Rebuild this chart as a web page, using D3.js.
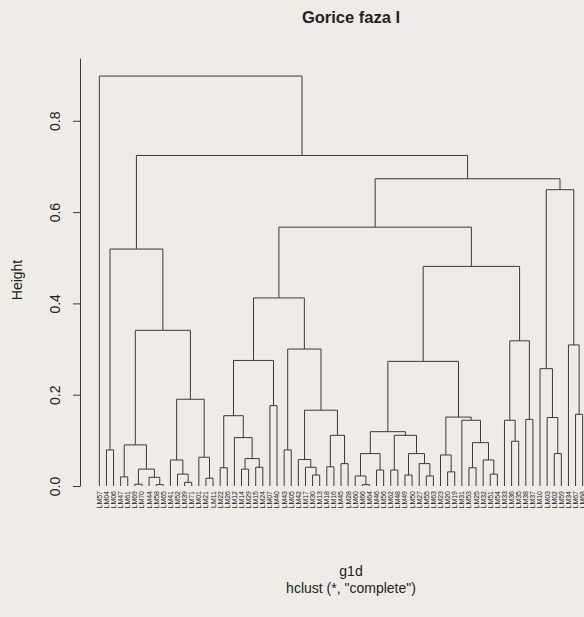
<!DOCTYPE html>
<html>
<head>
<meta charset="utf-8">
<script src="https://cdn.jsdelivr.net/npm/d3@7"></script>
<style>
  html, body { margin: 0; padding: 0; background: #efece7; }
  svg { display: block; }
  text { font-family: "Liberation Sans", Arial, sans-serif; fill: #222; }
</style>
</head>
<body>
<svg id="chart" width="584" height="617"></svg>
<script>
// Leaf labels in display order
const labels = ["LM57","LM04","LM06","LM47","LM61","LM69","LM70","LM44","LM58","LM65",
  "LM41","LM52","LM39","LM71","LM01","LM21","LM11","LM22","LM26","LM12",
  "LM14","LM29","LM15","LM24","LM07","LM40","LM43","LM05","LM42","LM17",
  "LM30","LM13","LM18","LM16","LM45","LM28","LM60","LM66","LM64","LM46",
  "LM56","LM62","LM48","LM49","LM50","LM27","LM55","LM63","LM23","LM20",
  "LM19","LM31","LM53","LM25","LM32","LM51","LM54","LM33","LM36","LM35",
  "LM38","LM37","LM10","LM03","LM02","LM59","LM34","LM67","LM68"];

// Merge table (R hclust style): negative = leaf position (1-based), positive = earlier merge row (1-based)
const merges = [
  [-2,-3],[-4,-5],[-6,-7],[-9,-10],[-8,4],[3,5],[2,6],[-13,-14],[-12,8],[-11,9],
  [-16,-17],[-15,11],[10,12],[7,13],[1,14],[-18,-19],[-21,-22],[-23,-24],[17,18],[-20,19],
  [16,20],[-25,-26],[21,22],[-27,-28],[-31,-32],[-30,25],[-29,26],[-33,-34],[-35,-36],[28,29],
  [27,30],[24,31],[23,32],[-38,-39],[-37,34],[-40,-41],[35,36],[-42,-43],[-44,-45],[-47,-48],
  [-46,40],[39,41],[38,42],[37,43],[-50,-51],[-49,45],[-53,-54],[-56,-57],[-55,48],[47,49],
  [-52,50],[46,51],[44,52],[-59,-60],[-58,54],[-61,-62],[55,56],[53,57],[33,58],[-65,-66],
  [-64,60],[-63,61],[-68,-69],[-67,63],[62,64],[59,65],[15,66],[-1,67]
];
const heights = [
  0.079,0.020,0.004,0.003,0.019,0.037,0.090,0.008,0.026,0.057,
  0.017,0.063,0.190,0.341,0.519,0.040,0.037,0.041,0.060,0.106,
  0.154,0.176,0.275,0.079,0.024,0.041,0.058,0.042,0.049,0.111,
  0.166,0.300,0.412,0.003,0.022,0.035,0.071,0.035,0.024,0.022,
  0.049,0.071,0.111,0.119,0.031,0.068,0.040,0.026,0.057,0.095,
  0.144,0.151,0.273,0.098,0.144,0.146,0.318,0.481,0.567,0.071,
  0.150,0.257,0.157,0.309,0.649,0.673,0.724,0.898
];
const yTicks = [0.0, 0.2, 0.4, 0.6, 0.8];

const title = "Gorice faza I";
const xLabel = "g1d";
const subLabel = 'hclust (*, "complete")';
const yLabel = "Height";

const svg = d3.select("#chart");
const n = labels.length;
const pad = 0.04 * (n - 1);
const x = d3.scaleLinear().domain([1 - pad, n + pad]).range([80, 602]);
const y = d3.scaleLinear().domain([0, 0.9375]).range([486, 58]);

// node positions
const nodeX = [], nodeH = [];
function pos(ref) {
  if (ref < 0) return { x: -ref, h: 0 };
  return { x: nodeX[ref - 1], h: nodeH[ref - 1] };
}
const segs = [];
merges.forEach((m, i) => {
  const a = pos(m[0]), b = pos(m[1]);
  nodeX[i] = (a.x + b.x) / 2;
  nodeH[i] = heights[i];
  segs.push({ a, b, h: heights[i] });
});

const stroke = "#3a3a3a";
svg.append("g").selectAll("path").data(segs).join("path")
  .attr("fill", "none")
  .attr("stroke", stroke)
  .attr("stroke-width", 1)
  .attr("d", d => `M${x(d.a.x)},${y(d.a.h)}V${y(d.h)}H${x(d.b.x)}V${y(d.b.h)}`);

// leaf labels
svg.append("g").selectAll("text").data(labels).join("text")
  .attr("transform", (d, i) => `translate(${x(i + 1)},491) rotate(-90)`)
  .attr("text-anchor", "end")
  .attr("dy", "0.35em")
  .style("font-size", "7px")
  .text(d => d);

// y axis
const axis = d3.axisLeft(y).tickValues(yTicks).tickFormat(d3.format(".1f")).tickSize(7).tickSizeOuter(0);
const gAxis = svg.append("g").attr("transform", "translate(80,0)").call(axis);
gAxis.select(".domain").attr("stroke", stroke);
gAxis.selectAll(".tick line").attr("stroke", stroke);
gAxis.selectAll(".tick text")
  .attr("x", null).attr("dy", null)
  .attr("transform", "translate(-20,0) rotate(-90)")
  .attr("text-anchor", "middle")
  .style("font-size", "14px")
  .style("font-family", '"Liberation Sans", Arial, sans-serif')
  .attr("fill", "#222");

// titles
svg.append("text").attr("x", 351).attr("y", 23).attr("text-anchor", "middle")
  .style("font-size", "16.5px").style("font-weight", "bold").text(title);
svg.append("text").attr("x", 351).attr("y", 576).attr("text-anchor", "middle")
  .style("font-size", "14px").text(xLabel);
svg.append("text").attr("x", 351).attr("y", 593).attr("text-anchor", "middle")
  .style("font-size", "14px").text(subLabel);
svg.append("text").attr("transform", "translate(22,280) rotate(-90)").attr("text-anchor", "middle")
  .style("font-size", "14px").text(yLabel);
</script>
</body>
</html>
